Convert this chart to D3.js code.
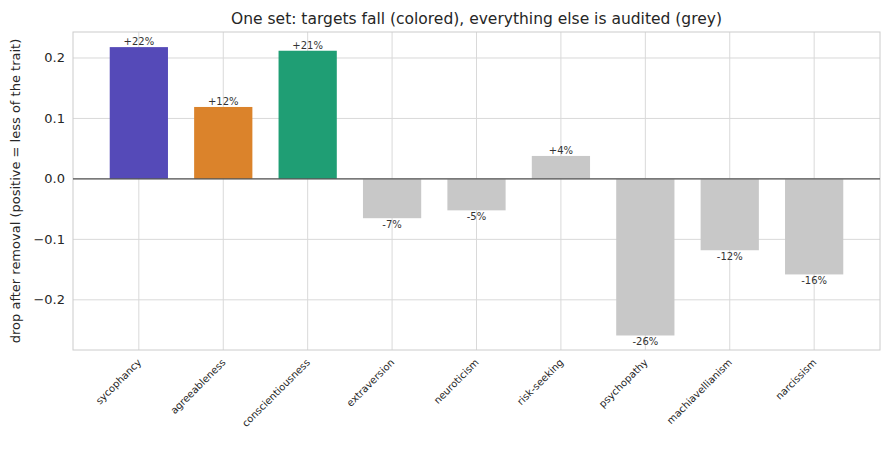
<!DOCTYPE html>
<html><head><meta charset="utf-8">
<script src="https://cdn.jsdelivr.net/npm/d3@7"></script>
<style>body{margin:0;background:#fff;font-family:"DejaVu Sans",sans-serif}</style>
</head><body><svg id="c" width="889" height="449"></svg>
<script>
const categories=["sycophancy","agreeableness","conscientiousness","extraversion","neuroticism","risk-seeking","psychopathy","machiavellianism","narcissism"];
const values=[0.218,0.119,0.212,-0.065,-0.052,0.038,-0.259,-0.118,-0.158];
const labels=["+22%","+12%","+21%","-7%","-5%","+4%","-26%","-12%","-16%"];
const colors=["#554ab8","#db832b","#1f9e74","#c8c8c8","#c8c8c8","#c8c8c8","#c8c8c8","#c8c8c8","#c8c8c8"];
const yTicks=[-0.2,-0.1,0,0.1,0.2];
const svg=d3.select("#c");
const L=73,R=880,T=32,B=350;
const x=d3.scaleLinear().domain([-0.78,8.78]).range([L,R]);
const y=d3.scaleLinear().domain([-0.283,0.243]).range([B,T]);
const bw=x(0.69)-x(0);
const g=svg.append("g");
g.selectAll(".hg").data(yTicks).join("line").attr("x1",L).attr("x2",R).attr("y1",d=>y(d)).attr("y2",d=>y(d)).attr("stroke","#d9d9d9");
g.selectAll(".vg").data(categories).join("line").attr("x1",(d,i)=>x(i)).attr("x2",(d,i)=>x(i)).attr("y1",T).attr("y2",B).attr("stroke","#d9d9d9");
svg.append("rect").attr("x",L).attr("y",T).attr("width",R-L).attr("height",B-T).attr("fill","none").attr("stroke","#cccccc");
svg.selectAll(".bar").data(values).join("rect").attr("x",(d,i)=>x(i)-bw/2).attr("width",bw)
 .attr("y",d=>y(Math.max(0,d))).attr("height",d=>Math.abs(y(d)-y(0))).attr("fill",(d,i)=>colors[i]);
svg.append("line").attr("x1",L).attr("x2",R).attr("y1",y(0)).attr("y2",y(0)).attr("stroke","#555").attr("stroke-width",1.3);
svg.selectAll(".vl").data(values).join("text").attr("x",(d,i)=>x(i)).attr("y",d=>d>=0?y(d)-2:y(d)+10)
 .attr("text-anchor","middle").attr("font-size",10).attr("fill","#333").text((d,i)=>labels[i]);
svg.selectAll(".yt").data(yTicks).join("text").attr("x",L-8).attr("y",d=>y(d)+4.5).attr("text-anchor","end").attr("font-size",13).attr("fill","#262626").text(d=>d3.format(".1f")(d));
svg.selectAll(".xt").data(categories).join("text").attr("transform",(d,i)=>`translate(${x(i)+3},${B+13}) rotate(-45)`)
 .attr("text-anchor","end").attr("font-size",10).attr("fill","#262626").text(d=>d);
svg.append("text").attr("transform",`translate(20,${(T+B)/2}) rotate(-90)`).attr("text-anchor","middle").attr("font-size",13).attr("fill","#262626").text("drop after removal (positive = less of the trait)");
svg.append("text").attr("x",(L+R)/2).attr("y",24).attr("text-anchor","middle").attr("font-size",15.5).attr("fill","#262626").text("One set: targets fall (colored), everything else is audited (grey)");
</script></body></html>
